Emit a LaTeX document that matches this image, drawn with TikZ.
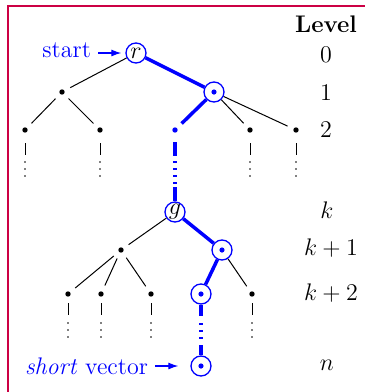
\documentclass[tikz,border=0pt]{standalone}
\usetikzlibrary{arrows.meta}
\definecolor{framered}{RGB}{204,0,68}
\newcommand{\leaftail}[6]{%
  \draw[thinedge] ([yshift=-#2]#1.center) -- ([yshift=-#3]#1.center);
  \foreach \o in {#4,#5,#6} \fill ([yshift=-\o]#1.center) circle (0.42pt);
}
\begin{document}
\begin{tikzpicture}[x=0.5pt,y=-0.5pt,
  font=\large,
  dotnode/.style={circle,fill=black,inner sep=0pt,minimum size=2.7pt,outer sep=3.3pt},
  bdot/.style={dotnode,fill=blue},
  cnode/.style={circle,draw=blue,line width=0.65pt,inner sep=0pt,minimum size=10pt},
  sel/.style={cnode,path picture={\fill[blue] (path picture bounding box.center) circle (1.3pt);}},
  thinedge/.style={line width=0.5pt},
  bluepath/.style={blue,line width=1.75pt},
  bluearrow/.style={blue,line width=0.6pt,-{Latex[length=5pt,width=3.5pt]}},
  lvl/.style={anchor=base}]
\useasboundingbox (0,0) rectangle (365,392);
% frame
\draw[framered,line width=1.15pt] (7.8,400) -- (7.8,5.8) -- (370,5.8);
% tree nodes
\node[cnode] (r) at (136,53) {$r$};
\node[dotnode] (a) at (62,92) {};
\node[sel] (b) at (214,92) {};
\node[dotnode] (a1) at (25,130) {};
\node[dotnode] (a2) at (100,130) {};
\node[bdot] (b1) at (175,130) {};
\node[dotnode] (b2) at (250,130) {};
\node[dotnode] (b3) at (296,130) {};
\node[cnode] (g) at (175,212) {$g$};
\node[dotnode] (c) at (121,250) {};
\node[sel] (d) at (222,250) {};
\node[dotnode] (c1) at (68,294) {};
\node[dotnode] (c2) at (101,294) {};
\node[dotnode] (c3) at (151,294) {};
\node[sel] (d1) at (201,294) {};
\node[dotnode] (d2) at (252,294) {};
\node[sel] (s) at (201,366) {};
% thin edges
\draw[thinedge] (r) -- (a);
\draw[thinedge] (a) -- (a1);
\draw[thinedge] (a) -- (a2);
\draw[thinedge] (b) -- (b2);
\draw[thinedge] (b) -- (b3);
\draw[thinedge] (g) -- (c);
\draw[thinedge] (c) -- (c1);
\draw[thinedge] (c) -- (c2);
\draw[thinedge] (c) -- (c3);
\draw[thinedge] (d) -- (d2);
% blue path
\draw[bluepath] (r) -- (b);
\draw[bluepath] (b) -- (b1);
\draw[bluepath] (g) -- (d);
\draw[bluepath] (d) -- (d1);
\draw[bluepath] ([yshift=-6pt]b1.center) -- ([yshift=-13pt]b1.center);
\draw[bluepath,dash pattern=on 1pt off 2.5pt] ([yshift=-15.5pt]b1.center) -- ([yshift=-27pt]b1.center);
\draw[bluepath] ([yshift=-28.5pt]b1.center) -- (g.north);
\draw[bluepath] (d1.south) -- ([yshift=-11pt]d1.center);
\draw[bluepath,dash pattern=on 1pt off 2.5pt] ([yshift=-14.5pt]d1.center) -- ([yshift=-22.5pt]d1.center);
\draw[bluepath] ([yshift=-25.5pt]d1.center) -- (s.north);
% leaf tails
\foreach \n in {a1,a2,b2,b3} {\leaftail{\n}{6.5pt}{12.5pt}{16pt}{19.5pt}{23pt}}
\foreach \n in {c1,c2,c3,d2} {\leaftail{\n}{4.5pt}{10.5pt}{14.5pt}{18pt}{21.5pt}}
% labels
\node[blue,anchor=base east] (st) at (98,57) {start};
\draw[bluearrow,shorten >=2pt] (st.east |- r) -- (r.west);
\node[blue,anchor=base east] (sv) at (155,374) {\textit{short} vector};
\draw[bluearrow,shorten >=6pt] (sv.east |- s) -- (s.west);
% level column
\node[lvl,font=\large\bfseries] (lv) at (326,32) {Level};
\node[lvl] (l0) at (326,62) {$0$};
\node[lvl] (l1) at (326,100) {$1$};
\node[lvl] (l2) at (326,137) {$2$};
\node[lvl] (lk) at (327,218) {$k$};
\node[lvl] (lk1) at (331,255) {$k+1$};
\node[lvl] (lk2) at (331,300) {$k+2$};
\node[lvl] (ln) at (327,370) {$n$};
\end{tikzpicture}
\end{document}
